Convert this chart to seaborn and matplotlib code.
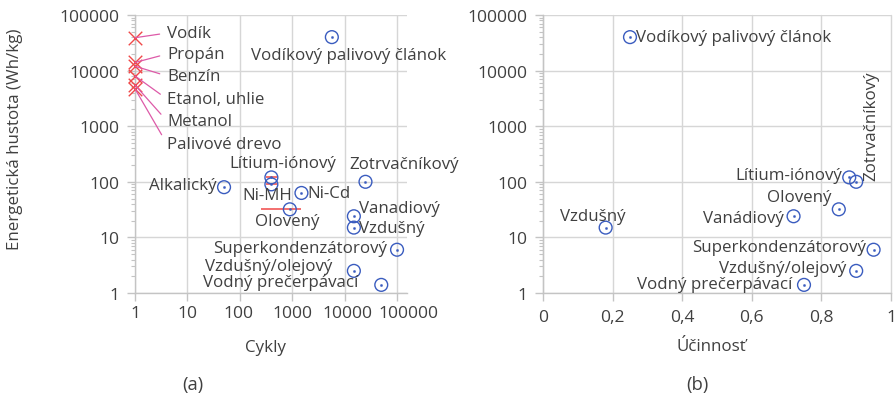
import matplotlib
matplotlib.use("Agg")
import numpy as np
import pandas as pd
import matplotlib.pyplot as plt
import seaborn as sns
from matplotlib.ticker import FixedLocator, FuncFormatter, LogLocator, NullFormatter

# Fuels: energy density only, plotted at one cycle
fuel_names = ["Vodík", "Propán", "Benzín", "Etanol, uhlie", "Metanol", "Palivové drevo"]
fuel_cycles = [1, 1, 1, 1, 1, 1]
fuel_density = [39000, 14000, 12000, 8000, 5500, 4700]

# Storage technologies: cycle life vs energy density
cyc_names = ["Vodíkový palivový článok", "Alkalický", "Lítium-iónový", "Ni-MH", "Ni-Cd",
             "Olovený", "Zotrvačníkový", "Vanadiový", "Vzdušný", "Superkondenzátorový",
             "Vzdušný/olejový", "Vodný prečerpávací"]
cyc_cycles = [5700, 50, 400, 400, 1500, 900, 25000, 15000, 15000, 100000, 15000, 50000]
cyc_density = [40000, 80, 120, 90, 63, 32, 100, 24, 15, 6, 2.5, 1.4]

# Cycle-life ranges
range_density = [120, 90, 32]
range_lo = [320, 320, 250]
range_hi = [510, 510, 1500]

# Storage technologies: efficiency vs energy density
eff_names = ["Vodíkový palivový článok", "Vzdušný", "Vanádiový", "Olovený", "Lítium-iónový",
             "Zotrvačníkový", "Superkondenzátorový", "Vzdušný/olejový", "Vodný prečerpávací"]
eff_values = [0.25, 0.18, 0.72, 0.85, 0.88, 0.90, 0.95, 0.90, 0.75]
eff_density = [40000, 15, 24, 32, 120, 100, 6, 2.5, 1.4]

decade_ticks = [1, 10, 100, 1000, 10000, 100000]
decade_labels = ["1", "10", "100", "1000", "10000", "100000"]
eff_ticks = [0, 0.2, 0.4, 0.6, 0.8, 1.0]

sns.set_theme(style="white")
plt.rcParams["font.family"] = ["Open Sans", "DejaVu Sans"]

BLUE = "#3a5cbf"
RED = "#f04848"
PINK = "#dd5aa8"
GRID = "#d6d6d6"
TXT = "#404040"
FS = 12.2
TFS = 12.6

fig = plt.figure(figsize=(8.95, 4.02), dpi=100)
W, H = 895, 402


def px_axes(x0, x1, y0, y1):
    return fig.add_axes([x0 / W, 1 - y1 / H, (x1 - x0) / W, (y1 - y0) / H])


axA = px_axes(135, 407, 16, 294)
axB = px_axes(543, 891, 16, 294)

cyc_df = pd.DataFrame({"name": cyc_names, "cycles": cyc_cycles, "density": cyc_density})
eff_df = pd.DataFrame({"name": eff_names, "eff": eff_values, "density": eff_density})
fuel_df = pd.DataFrame({"name": fuel_names, "cycles": fuel_cycles, "density": fuel_density})


def style_axes(ax):
    ax.set_yscale("log")
    ax.set_ylim(1, 100000)
    ax.yaxis.set_major_locator(FixedLocator(decade_ticks))
    ax.yaxis.set_major_formatter(FuncFormatter(lambda v, p: f"{v:.0f}"))
    ax.yaxis.set_minor_locator(LogLocator(base=10, subs=np.arange(2, 10)))
    ax.yaxis.set_minor_formatter(NullFormatter())
    ax.grid(True, which="major", color=GRID, linewidth=1)
    ax.set_axisbelow(True)
    for s in ["top", "right"]:
        ax.spines[s].set_visible(False)
    for s in ["left", "bottom"]:
        ax.spines[s].set_color("#c4c4c4")
        ax.spines[s].set_linewidth(1)
    ax.tick_params(axis="both", which="major", direction="out", length=5.5, width=1,
                   color="#c4c4c4", labelsize=TFS, labelcolor=TXT, pad=6, left=True, bottom=True)
    ax.tick_params(axis="both", which="minor", direction="out", length=3, width=0.8,
                   color="#c4c4c4", left=True, bottom=True)


def circles(ax, df, xcol):
    sns.scatterplot(data=df, x=xcol, y="density", ax=ax, marker="o", s=85,
                    color=BLUE, facecolor="none", edgecolor=BLUE, linewidth=1.0,
                    zorder=4, legend=False)
    sns.scatterplot(data=df, x=xcol, y="density", ax=ax, marker="o", s=2.5,
                    color=BLUE, edgecolor=BLUE, linewidth=0.3, zorder=4, legend=False)


def label(ax, text, x, y, dx, dy, ha="center", **kw):
    ax.annotate(text, (x, y), xytext=(dx, dy), textcoords="offset pixels",
                ha=ha, va="center", fontsize=FS, color=TXT, annotation_clip=False,
                zorder=6, **kw)


# ---- (a) cycles ----
axA.set_xscale("log")
axA.hlines(range_density, range_lo, range_hi, color=RED, linewidth=1.1, zorder=3)
circles(axA, cyc_df, "cycles")
sns.scatterplot(data=fuel_df, x="cycles", y="density", ax=axA, marker="x", s=95,
                color=RED, linewidth=1.0, zorder=5, legend=False, clip_on=False)

axA.set_xlim(1, 10 ** 5.19)
axA.xaxis.set_major_locator(FixedLocator(decade_ticks))
axA.xaxis.set_major_formatter(NullFormatter())
axA.xaxis.set_minor_locator(LogLocator(base=10, subs=np.arange(2, 10)))
axA.xaxis.set_minor_formatter(NullFormatter())
style_axes(axA)
axA.set_xlabel("")
axA.set_ylabel("")

# Decade labels spread slightly so the long ones do not collide
xlab_shift = [0, 0, -1, 0, 3, 11]
for v, txt, sh in zip(decade_ticks, decade_labels, xlab_shift):
    axA.annotate(txt, (v, 0), xycoords=("data", "axes fraction"), xytext=(sh, -12),
                 textcoords="offset pixels", ha="center", va="top", fontsize=TFS,
                 color=TXT, annotation_clip=False)

cyc_offsets = {
    "Vodíkový palivový článok": (17, -18, "center"),
    "Alkalický": (-7, 2, "right"),
    "Lítium-iónový": (11, 14, "center"),
    "Ni-MH": (-4, -11, "center"),
    "Ni-Cd": (6, 0, "left"),
    "Olovený": (-3, -12, "center"),
    "Zotrvačníkový": (-16, 18, "left"),
    "Vanadiový": (5, 8, "left"),
    "Vzdušný": (5, 0, "left"),
    "Superkondenzátorový": (-10, 2, "right"),
    "Vzdušný/olejový": (-21, 5, "right"),
    "Vodný prečerpávací": (-23, 3, "right"),
}
for n, x, y in zip(cyc_names, cyc_cycles, cyc_density):
    dx, dy, ha = cyc_offsets[n]
    label(axA, n, x, y, dx, dy, ha=ha)

fuel_text_y = [34, 55, 77, 100, 122, 145]
for n, x, y, ty in zip(fuel_names, fuel_cycles, fuel_density, fuel_text_y):
    ypx = 294 - np.log10(y) * (278 / 5)
    label(axA, n, x, y, 32, ypx - ty, ha="left",
          arrowprops=dict(arrowstyle="-", color=PINK, lw=0.9, shrinkA=3, shrinkB=0,
                          relpos=(0, 0.5)))

# ---- (b) efficiency ----
circles(axB, eff_df, "eff")
axB.set_xlim(0, 1.0)
axB.xaxis.set_major_locator(FixedLocator(eff_ticks))
axB.xaxis.set_major_formatter(FuncFormatter(
    lambda v, p: "0" if v == 0 else ("1" if v == 1 else f"{v:.1f}".replace(".", ","))))
axB.xaxis.set_minor_locator(FixedLocator([]))
style_axes(axB)
axB.set_xlabel("")
axB.set_ylabel("")
for ln in axB.get_xgridlines():
    ln.set_clip_on(False)

eff_offsets = {
    "Vodíkový palivový článok": (6, 0, "left"),
    "Vzdušný": (-13, 12, "center"),
    "Vanádiový": (-10, -2, "right"),
    "Olovený": (-7, 12, "right"),
    "Lítium-iónový": (-7, 2, "right"),
    "Superkondenzátorový": (-7, 3, "right"),
    "Vzdušný/olejový": (-10, 3, "right"),
    "Vodný prečerpávací": (-12, 1, "right"),
}
for n, x, y in zip(eff_names, eff_values, eff_density):
    if n == "Zotrvačníkový":
        axB.annotate(n, (x, y), xytext=(15, 2), textcoords="offset pixels", rotation=90,
                     ha="center", va="bottom", fontsize=FS, color=TXT, annotation_clip=False)
        continue
    dx, dy, ha = eff_offsets[n]
    label(axB, n, x, y, dx, dy, ha=ha)

# Axis titles and panel letters
fig.text(15 / W, 1 - 139 / H, "Energetická hustota (Wh/kg)", rotation=90, ha="center",
         va="center", fontsize=FS, color=TXT)
fig.text(266 / W, 1 - 348 / H, "Cykly", ha="center", va="center", fontsize=FS, color=TXT)
fig.text(711 / W, 1 - 347 / H, "Účinnosť", ha="center", va="center", fontsize=FS, color=TXT)
fig.text(193 / W, 1 - 385 / H, "(a)", ha="center", va="center", fontsize=FS + 1, color=TXT)
fig.text(697 / W, 1 - 385 / H, "(b)", ha="center", va="center", fontsize=FS + 1, color=TXT)

fig.savefig("out.png", dpi=100, facecolor="white")
